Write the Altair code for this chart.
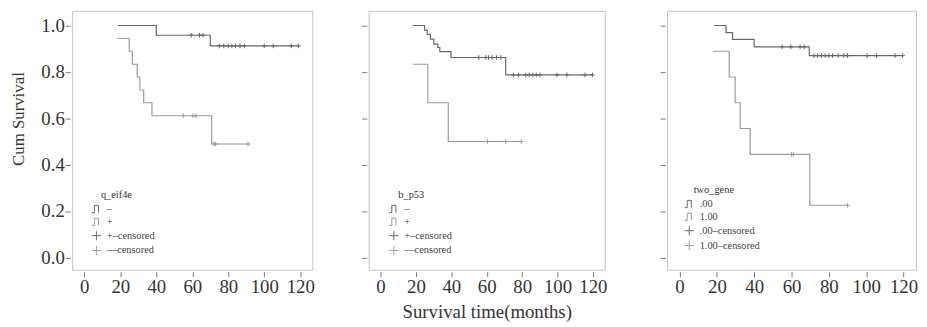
import altair as alt
import pandas as pd

# ---------------- data ----------------
# Panel 1: q_eif4e
P1_TITLE = "q_eif4e"
P1_LABELS = ["\u2013", "+", "+\u2013censored", "\u2013\u2013censored"]
P1_A_T = [18.5, 40, 70]
P1_A_S = [1.0, 0.958, 0.912]
P1_A_END = 119
P1_A_CENS = [59.4, 64, 66, 75, 77.5, 80, 82, 84, 86.5, 89, 100, 105, 115, 119]
P1_B_T = [18.5, 25, 26.7, 29.4, 30.9, 33, 37.6, 70.8]
P1_B_S = [0.944, 0.889, 0.833, 0.778, 0.722, 0.667, 0.611, 0.489]
P1_B_END = 91
P1_B_CENS = [55, 60.3, 62, 72, 73, 91]

# Panel 2: b_p53
P2_TITLE = "b_p53"
P2_LABELS = ["\u2013", "+", "+\u2013censored", "\u2013\u2013censored"]
P2_A_T = [18.3, 24.9, 26.4, 28.2, 30.1, 32.4, 33.5, 39.8, 70.7]
P2_A_S = [1.0, 0.98, 0.962, 0.941, 0.92, 0.905, 0.887, 0.862, 0.787]
P2_A_END = 119.8
P2_A_CENS = [55.5, 59.5, 61, 63, 65.5, 68, 75, 78, 82, 84, 86, 88, 90, 99.7, 105.3, 115.5, 119.8]
P2_B_T = [18.3, 26.7, 38.3]
P2_B_S = [0.833, 0.667, 0.5]
P2_B_END = 79.5
P2_B_CENS = [60.4, 70.7, 79.5]

# Panel 3: two_gene
P3_TITLE = "two_gene"
P3_LABELS = [".00", "1.00", ".00\u2013censored", "1.00\u2013censored"]
P3_A_T = [18.3, 24.9, 28.4, 40, 69.5]
P3_A_S = [1.0, 0.969, 0.94, 0.908, 0.87]
P3_A_END = 119.5
P3_A_CENS = [55, 59.6, 64.6, 66.7, 72, 74, 76, 78, 80, 82, 85, 88, 90, 100.5, 105.5, 115.5, 119.5]
P3_B_T = [17.8, 26.6, 29.8, 32.5, 37.8, 69.8]
P3_B_S = [0.889, 0.778, 0.667, 0.556, 0.444, 0.225]
P3_B_END = 90
P3_B_CENS = [60, 61, 90]

X_TICKS = [0, 20, 40, 60, 80, 100, 120]
Y_TICKS = [0.0, 0.2, 0.4, 0.6, 0.8, 1.0]

# ---------------- styling ----------------
SERIF = "Liberation Serif"
DARK = "#686868"
LIGHT = "#9c9c9c"
STEP = "M-1,0.8H-0.45V-0.8H0.45V0.8"
CROSS = "M0,-1V1M-1,0H1"
X_DOMAIN = [-6.7, 126.7]
Y_DOMAIN = [-0.053, 1.063]


def surv_at(ts, ss, t):
    v = ss[0]
    for ti, si in zip(ts, ss):
        if ti <= t:
            v = si
    return v


def make_panel(title, labels, a, b, width, first, x_title, lx, ly):
    line_rows, cens_rows = [], []
    for g, (ts, ss, end, cens) in zip(["A", "B"], [a, b]):
        for ti, si in zip(ts, ss):
            line_rows.append({"t": ti, "s": si, "g": g})
        line_rows.append({"t": end, "s": ss[-1], "g": g})
        for c in cens:
            cens_rows.append({"t": c, "s": surv_at(ts, ss, c), "g": g})
    line_df = pd.DataFrame(line_rows)
    cens_df = pd.DataFrame(cens_rows)
    leg_df = pd.DataFrame({"label": labels})

    xs = alt.Scale(domain=X_DOMAIN, nice=False, zero=False)
    ys = alt.Scale(domain=Y_DOMAIN, nice=False, zero=False)
    gcol = alt.Scale(domain=["A", "B"], range=[DARK, LIGHT])

    x_axis = alt.Axis(values=X_TICKS, labelFont=SERIF, labelFontSize=19, labelColor="#333",
                      tickColor="#777", tickSize=5, offset=2, domain=False, grid=False,
                      labelPadding=1, labelOverlap=False, labelFlush=False,
                      title=x_title if x_title else None,
                      titleFont=SERIF, titleFontSize=19, titleFontWeight="normal",
                      titleColor="#333", titlePadding=6)
    if first:
        y_axis = alt.Axis(values=Y_TICKS, format=".1f", labelFont=SERIF, labelFontSize=19,
                          labelColor="#333", tickColor="#777", tickSize=5, offset=2,
                          domain=False, grid=False, labelPadding=1, title="Cum Survival",
                          titleFont=SERIF, titleFontSize=17, titleFontWeight="normal",
                          titleColor="#333", titlePadding=14, titleY=109)
    else:
        y_axis = alt.Axis(values=Y_TICKS, labels=False, tickColor="#777", tickSize=5, offset=2,
                          domain=False, grid=False, title=None)

    lines = alt.Chart(line_df).mark_line(interpolate="step-after", strokeWidth=1.2).encode(
        x=alt.X("t:Q", scale=xs, axis=x_axis),
        y=alt.Y("s:Q", scale=ys, axis=y_axis),
        color=alt.Color("g:N", scale=gcol, legend=None),
        detail="g:N",
    )
    cens = alt.Chart(cens_df).mark_point(shape=CROSS, size=22, strokeWidth=1, filled=False,
                                         opacity=1).encode(
        x=alt.X("t:Q", scale=xs, axis=x_axis),
        y=alt.Y("s:Q", scale=ys, axis=y_axis),
        color=alt.Color("g:N", scale=gcol, legend=None),
    )
    leg = alt.Legend(title=None, orient="none", legendX=lx, legendY=ly,
                     symbolSize=85, symbolStrokeWidth=1, labelFont=SERIF, labelFontSize=10.5,
                     labelColor="#444", rowPadding=0, labelOffset=5, padding=0)
    dummy = alt.Chart(leg_df).mark_point(filled=False, opacity=0).encode(
        x=alt.value(100), y=alt.value(100),
        color=alt.Color("label:N", scale=alt.Scale(domain=labels, range=[DARK, LIGHT, DARK, LIGHT]),
                        legend=leg),
        shape=alt.Shape("label:N", scale=alt.Scale(domain=labels, range=[STEP, STEP, CROSS, CROSS]),
                        legend=leg),
    )
    ltitle = alt.Chart(leg_df).transform_filter(
        alt.datum.label == labels[0]
    ).mark_text(align="left", baseline="middle", font=SERIF, fontSize=10.5, color="#333").encode(
        x=alt.value(lx + 10), y=alt.value(ly - 9), text=alt.value(title)
    )
    return alt.layer(lines, cens, dummy, ltitle).resolve_scale(
        color="independent", shape="independent"
    ).properties(width=width, height=262)


p1 = make_panel(P1_TITLE, P1_LABELS, (P1_A_T, P1_A_S, P1_A_END, P1_A_CENS),
                (P1_B_T, P1_B_S, P1_B_END, P1_B_CENS), 243, True, None, 19, 195)
p2 = make_panel(P2_TITLE, P2_LABELS, (P2_A_T, P2_A_S, P2_A_END, P2_A_CENS),
                (P2_B_T, P2_B_S, P2_B_END, P2_B_CENS), 239, False, "Survival time(months)", 20, 195)
p3 = make_panel(P3_TITLE, P3_LABELS, (P3_A_T, P3_A_S, P3_A_END, P3_A_CENS),
                (P3_B_T, P3_B_S, P3_B_END, P3_B_CENS), 252, False, None, 17, 190)

chart = alt.hconcat(p1, alt.hconcat(p2, p3, spacing=52), spacing=46).resolve_scale(
    color="independent", shape="independent"
).properties(
    padding={"left": 0, "top": 0, "right": 0, "bottom": 0},
    background="white",
).configure(
    padding={"left": 0, "top": 0, "right": 0, "bottom": 0}
).configure_axis(labelOverlap=False).configure_view(stroke="#c4c4c4", strokeWidth=1)

chart.save("out.html", embed_options={"renderer": "svg", "actions": False})
